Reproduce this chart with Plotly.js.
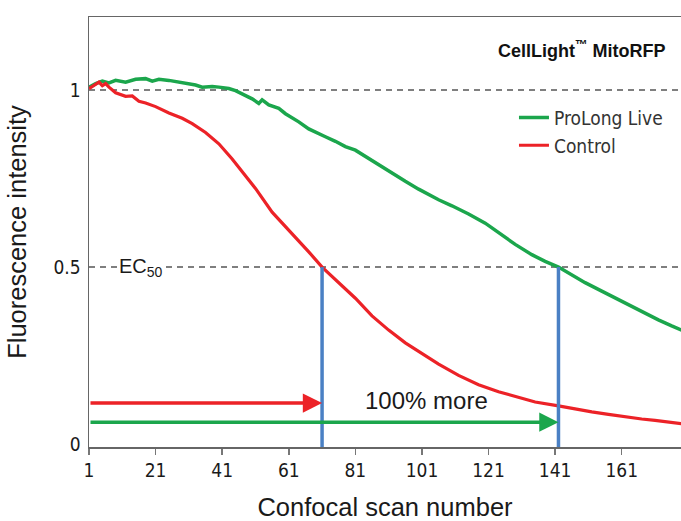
<!DOCTYPE html>
<html>
<head>
<meta charset="utf-8">
<script src="https://cdn.plot.ly/plotly-3.0.1.min.js"></script>
<style>html,body{margin:0;padding:0;background:#fff;}#chart{width:681px;height:521px;}</style>
</head>
<body>
<div id="chart"></div>
<script>
// ---- data ----
const seriesNames = ["ProLong Live", "Control"];

const greenScans = [1, 3, 5, 7, 9, 12, 15, 18, 20, 22, 25, 28, 30, 33, 35, 38, 40, 43, 45, 48, 50, 52, 53, 55, 58, 60, 62, 64, 67, 70, 72, 75, 78, 81, 85, 88, 92, 96, 100, 103, 106, 110, 115, 120, 125, 129, 134, 138, 142, 146, 150, 155, 160, 164, 168, 172, 176, 179];
const greenValues = [1.008, 1.018, 1.025, 1.020, 1.027, 1.022, 1.030, 1.032, 1.025, 1.030, 1.027, 1.022, 1.020, 1.014, 1.008, 1.010, 1.008, 1.004, 0.998, 0.985, 0.975, 0.962, 0.972, 0.958, 0.948, 0.933, 0.922, 0.910, 0.890, 0.878, 0.868, 0.855, 0.840, 0.830, 0.806, 0.789, 0.764, 0.742, 0.720, 0.705, 0.690, 0.673, 0.650, 0.624, 0.592, 0.564, 0.535, 0.516, 0.500, 0.478, 0.456, 0.432, 0.408, 0.390, 0.370, 0.351, 0.334, 0.322];

const redScans = [1, 3, 4, 5, 6, 7, 9, 12, 14, 16, 18, 21, 25, 29, 32, 36, 40, 44, 48, 51, 56, 62, 67, 71, 76, 81, 86, 91, 96, 101, 106, 112, 118, 124, 130, 135, 142, 147, 152, 157, 162, 167, 171, 175, 179];
const redValues = [1.004, 1.015, 1.022, 1.012, 1.018, 1.008, 0.992, 0.982, 0.983, 0.968, 0.963, 0.953, 0.935, 0.920, 0.905, 0.880, 0.848, 0.805, 0.758, 0.722, 0.655, 0.595, 0.543, 0.500, 0.455, 0.412, 0.362, 0.322, 0.286, 0.256, 0.226, 0.194, 0.168, 0.148, 0.131, 0.119, 0.108, 0.099, 0.091, 0.084, 0.077, 0.071, 0.067, 0.062, 0.058];

const ec50Level = 0.5;
const refLevel = 1;
const ec50Scans = [71, 142];           // Control, ProLong Live
const arrowStart = 1;
const arrowLevels = [0.116, 0.062];    // Control arrow, ProLong Live arrow
const xTickVals = [1, 21, 41, 61, 81, 101, 121, 141, 161];
const yTickVals = [0, 0.5, 1];
const yTickText = ["0", "0.5", "1"];

// ---- styles ----
const GREEN = "#1ba64c";
const RED = "#ec2227";
const BLUE = "#4a80c4";
const condFamily = "DejaVu Sans Condensed, DejaVu Sans";
const tickFont = {family: condFamily, size: 19, color: "#1a1a1a"};
const textFamily = "Liberation Sans, Arial";

const traces = [
  {x: greenScans, y: greenValues, name: seriesNames[0], type: "scatter", mode: "lines",
   line: {color: GREEN, width: 3.5}},
  {x: redScans, y: redValues, name: seriesNames[1], type: "scatter", mode: "lines",
   line: {color: RED, width: 3.2}}
];

const dashLine = {color: "#555", width: 1.5, dash: "6px,5px"};
const shapes = [
  {type: "line", xref: "paper", yref: "y", x0: 0, x1: 1, y0: refLevel, y1: refLevel, line: dashLine, layer: "below"},
  {type: "line", xref: "paper", yref: "y", x0: 0, x1: 1, y0: ec50Level, y1: ec50Level, line: dashLine, layer: "below"}
];
ec50Scans.forEach(s => shapes.push({
  type: "line", xref: "x", yref: "y", x0: s, x1: s, y0: -0.01, y1: ec50Level,
  line: {color: BLUE, width: 3.5}
}));

const annotations = [
  {xref: "paper", yref: "paper", x: 0.978, y: 0.925, xanchor: "right", yanchor: "middle",
   text: "<b>CellLight<sup>™</sup> MitoRFP</b>", showarrow: false,
   font: {family: textFamily, size: 18, color: "#111"}},
  {xref: "x", yref: "y", x: 16.5, y: ec50Level, text: "EC<sub>50</sub>", showarrow: false,
   bgcolor: "#ffffff", font: {family: textFamily, size: 20, color: "#1a1a1a"},
   xanchor: "center", yanchor: "middle"},
  {xref: "x", yref: "y", x: (ec50Scans[0] + ec50Scans[1]) / 2 - 4, y: arrowLevels[0] + 0.008,
   text: "100% more", showarrow: false, font: {family: textFamily, size: 24, color: "#1a1a1a"}},
  {xref: "x", yref: "y", x: ec50Scans[0], y: arrowLevels[0], axref: "x", ayref: "y",
   ax: arrowStart, ay: arrowLevels[0], showarrow: true, arrowhead: 2, arrowsize: 1.1,
   arrowwidth: 3.5, arrowcolor: RED, text: "", standoff: 0},
  {xref: "x", yref: "y", x: ec50Scans[1], y: arrowLevels[1], axref: "x", ayref: "y",
   ax: arrowStart, ay: arrowLevels[1], showarrow: true, arrowhead: 2, arrowsize: 1.1,
   arrowwidth: 3.5, arrowcolor: GREEN, text: "", standoff: 0}
];

const layout = {
  width: 681, height: 521,
  margin: {l: 89, r: 0, t: 17, b: 74},
  paper_bgcolor: "#ffffff", plot_bgcolor: "#ffffff",
  showlegend: true,
  legend: {x: 0.978, y: 0.81, xanchor: "right", yanchor: "top",
           bgcolor: "rgba(0,0,0,0)", font: {family: condFamily, size: 19, color: "#333"},
           tracegroupgap: 0, itemwidth: 30},
  xaxis: {range: [1, 178.8], tickvals: xTickVals, ticks: "outside", ticklen: 6, tickwidth: 1.5,
          tickcolor: "#777", showline: true, linecolor: "#666", linewidth: 1.5, mirror: true,
          showgrid: false, zeroline: false, tickfont: tickFont,
          title: {text: "Confocal scan number", font: {family: textFamily, size: 25.5, color: "#1a1a1a"}, standoff: 18}},
  yaxis: {range: [-0.008, 1.206], tickvals: yTickVals, ticktext: yTickText, ticks: "",
          showline: true, linecolor: "#666", linewidth: 1.5, showgrid: false, zeroline: false,
          tickfont: tickFont, ticklabelstandoff: 3,
          title: {text: "Fluorescence intensity", font: {family: textFamily, size: 25.5, color: "#1a1a1a"}, standoff: 19}},
  shapes: shapes,
  annotations: annotations
};

Plotly.newPlot("chart", traces, layout, {displayModeBar: false, staticPlot: true});
</script>
</body>
</html>
